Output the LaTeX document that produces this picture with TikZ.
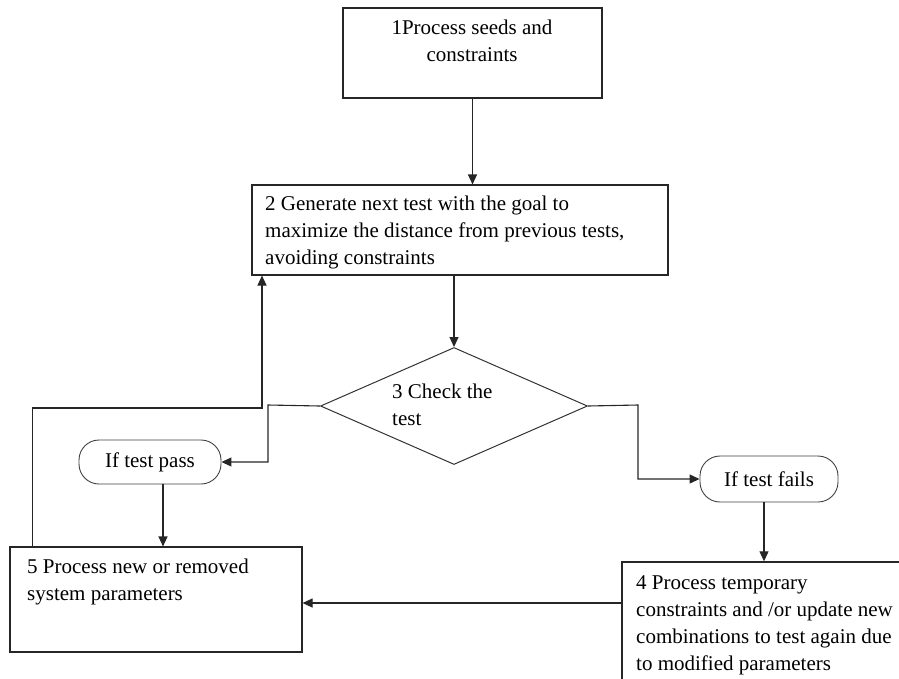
\documentclass[tikz,border=0pt]{standalone}
\usepackage{fontspec}
\setmainfont{Liberation Serif}
\usetikzlibrary{arrows.meta,shapes.geometric,calc}
\tikzset{
  box/.style={draw=black!85,line width=1.1pt,rectangle,inner sep=0pt},
  term/.style={draw=black!75,line width=0.9pt,rectangle,rounded corners=20pt,inner sep=0pt,font=\fontsize{21}{27}\selectfont},
  dec/.style={draw=black!80,line width=1pt,diamond,inner sep=0pt},
  lbl/.style={inner sep=0pt,font=\fontsize{21}{27}\selectfont,align=left},
  conn/.style={draw=black!85,line width=1.1pt},
  arr/.style={conn,-{Triangle[length=10pt,width=9pt]}}
}
\begin{document}
\begin{tikzpicture}[x=1pt,y=-1pt]
\useasboundingbox (0,0) rectangle (899,678);
\clip (0,0) rectangle (899,678);
% boxes
\node[box,minimum width=259pt,minimum height=90pt] (b1) at (472.5,53) {};
\node[box,minimum width=416pt,minimum height=90pt] (b2) at (460,230) {};
\node[dec,minimum width=267pt,minimum height=117pt] (dia) at (454,406) {};
\node[term,minimum width=142pt,minimum height=44pt] (pass) at (150,462) {If test pass};
\node[term,minimum width=138pt,minimum height=46pt] (fail) at (769,479) {If test fails};
\node[box,minimum width=292pt,minimum height=105pt] (b5) at (156,599.5) {};
\node[box,line width=1.4pt,minimum width=288pt,minimum height=138pt] (b4) at (766,631) {};
% texts
\node[lbl,align=center,anchor=north] (t1) at (472,20) {1Process seeds and\\constraints};
\node[lbl,anchor=north west] (t2) at (265,196) {2 Generate next test with the goal to\\maximize the distance from previous tests,\\avoiding constraints};
\node[lbl,anchor=north west,font=\fontsize{21}{27}\selectfont] (t3) at (392,384) {3 Check the\\test};
\node[lbl,anchor=north west] (t5) at (27,559) {5 Process new or removed\\system parameters};
\node[lbl,anchor=north west] (t4) at (636,575) {4 Process temporary\\constraints and /or update new\\combinations to test again due\\to modified parameters};
% coordinates
\coordinate (lc) at (268,405);
\coordinate (rc) at (638,405);
\coordinate (loop) at (262,408);
\coordinate (a4) at (622,603);
\coordinate (ps) at ($(pass.south)+(13,0)$);
\coordinate (fs) at ($(fail.south)+(-5,0)$);
\coordinate (l5) at ($(b5.north west)+(23,0)$);
% connectors
\draw[arr] (b1.south) -- (b1.south |- b2.north);
\draw[arr] (dia.north |- b2.south) -- (dia.north);
\draw[arr] (dia.west) -- (lc) |- (pass.east);
\draw[arr] (dia.east) -- (rc) |- (fail.west);
\draw[arr] (ps) -- (ps |- b5.north);
\draw[arr] (fs) -- (fs |- b4.north);
\draw[arr] (a4) -- (a4 -| b5.east);
\draw[arr] (l5) |- (loop) -- (loop |- b2.south);
\end{tikzpicture}
\end{document}
